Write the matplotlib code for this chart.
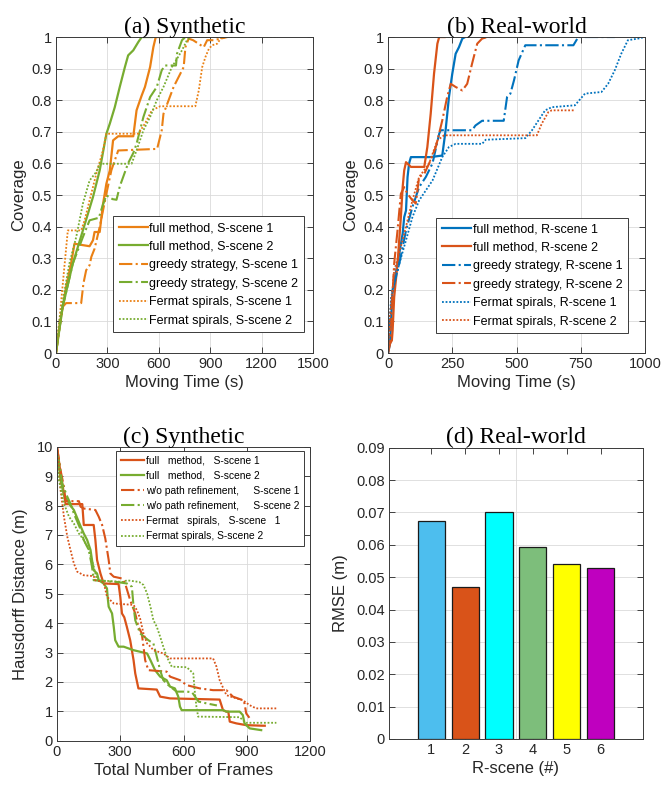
import numpy as np
import matplotlib
matplotlib.use("Agg")
import matplotlib.pyplot as plt

plt.rcParams['font.family'] = ['Liberation Sans', 'DejaVu Sans']

# colores estilo MATLAB
naranja_a = "#EA8014"
naranja = "#D95319"
verde = "#77AC30"
azul = "#0072BD"

# ---------------- (a) Synthetic: cobertura vs tiempo ----------------
a_full1_t = [0, 20, 39, 59, 88, 108, 150, 196, 216, 225, 255, 274, 294, 314, 333, 363, 451, 470, 480, 500, 519, 549, 568, 582, 620]
a_full1_c = [0, 0.082, 0.146, 0.209, 0.283, 0.346, 0.342, 0.338, 0.357, 0.383, 0.383, 0.47, 0.536, 0.578, 0.673, 0.686, 0.686, 0.768, 0.784, 0.815, 0.842, 0.905, 0.968, 1.0, 1.0]
a_full2_t = [0, 39, 98, 157, 216, 255, 294, 314, 343, 372, 402, 421, 451, 480, 500, 560]
a_full2_c = [0, 0.146, 0.283, 0.388, 0.494, 0.578, 0.694, 0.726, 0.778, 0.842, 0.905, 0.942, 0.958, 0.984, 1.0, 1.0]
a_greedy1_t = [0, 20, 39, 59, 147, 160, 176, 196, 206, 225, 255, 294, 323, 363, 590, 617, 627, 657, 686, 715, 745, 755, 774, 800, 862, 882, 920, 960, 1000]
a_greedy1_c = [0, 0.08, 0.146, 0.158, 0.158, 0.22, 0.262, 0.278, 0.304, 0.33, 0.399, 0.504, 0.578, 0.641, 0.646, 0.705, 0.757, 0.8, 0.842, 0.873, 0.905, 0.968, 0.995, 0.99, 0.968, 0.99, 0.99, 0.995, 1.0]
a_greedy2_t = [0, 39, 98, 157, 196, 250, 274, 294, 330, 353, 372, 421, 451, 470, 510, 549, 588, 617, 637, 700, 706, 735, 755, 800]
a_greedy2_c = [0, 0.146, 0.283, 0.367, 0.42, 0.428, 0.47, 0.499, 0.487, 0.485, 0.527, 0.601, 0.633, 0.662, 0.747, 0.81, 0.842, 0.895, 0.91, 0.91, 0.947, 0.99, 1.0, 1.0]
a_fermat1_t = [0, 20, 45, 69, 147, 167, 196, 235, 274, 294, 480, 519, 559, 608, 813, 833, 853, 872, 892, 911, 941, 960, 990]
a_fermat1_c = [0, 0.103, 0.25, 0.388, 0.388, 0.42, 0.483, 0.567, 0.641, 0.694, 0.694, 0.726, 0.768, 0.781, 0.781, 0.831, 0.905, 0.937, 0.963, 0.974, 0.979, 0.995, 1.0]
a_fermat2_t = [0, 20, 78, 118, 157, 196, 235, 255, 441, 470, 510, 549, 588, 627, 676, 706, 735, 764, 784, 1294]
a_fermat2_c = [0, 0.103, 0.283, 0.367, 0.473, 0.546, 0.573, 0.599, 0.599, 0.641, 0.705, 0.747, 0.8, 0.842, 0.905, 0.931, 0.958, 0.99, 1.0, 1.0]

# ---------------- (b) Real-world: cobertura vs tiempo ----------------
b_full1_t = [0, 8, 12, 18, 37, 57, 63, 70, 76, 82, 89, 165, 211, 224, 237, 250, 263, 276, 289, 300]
b_full1_c = [0, 0.03, 0.1, 0.2, 0.283, 0.378, 0.43, 0.451, 0.557, 0.6, 0.62, 0.62, 0.625, 0.705, 0.81, 0.884, 0.947, 0.968, 0.995, 1.0]
b_full2_t = [0, 8, 15, 18, 24, 37, 50, 57, 63, 70, 89, 141, 153, 166, 179, 192, 199, 220]
b_full2_c = [0, 0.03, 0.04, 0.072, 0.177, 0.283, 0.43, 0.525, 0.578, 0.604, 0.589, 0.589, 0.652, 0.757, 0.884, 0.979, 1.0, 1.0]
b_greedy1_t = [0, 10, 18, 44, 70, 95, 121, 147, 173, 199, 205, 327, 340, 366, 450, 463, 476, 490, 508, 534, 721, 740, 882]
b_greedy1_c = [0, 0.12, 0.2, 0.283, 0.388, 0.462, 0.525, 0.557, 0.6, 0.694, 0.705, 0.705, 0.72, 0.735, 0.735, 0.81, 0.821, 0.863, 0.926, 0.974, 0.974, 1.0, 1.0]
b_greedy2_t = [0, 8, 12, 24, 37, 50, 63, 76, 95, 108, 121, 141, 160, 186, 211, 230, 244, 263, 289, 308, 327, 347, 366, 386, 400]
b_greedy2_c = [0, 0.04, 0.1, 0.283, 0.388, 0.504, 0.525, 0.504, 0.483, 0.473, 0.557, 0.567, 0.6, 0.652, 0.736, 0.81, 0.852, 0.842, 0.831, 0.852, 0.916, 0.979, 0.995, 1.0, 1.0]
b_fermat1_t = [0, 12, 44, 70, 95, 121, 173, 211, 237, 263, 366, 380, 534, 560, 585, 611, 637, 727, 766, 830, 856, 882, 907, 933, 972, 998]
b_fermat1_c = [0, 0.177, 0.283, 0.357, 0.43, 0.483, 0.546, 0.62, 0.652, 0.662, 0.662, 0.675, 0.68, 0.705, 0.736, 0.768, 0.778, 0.784, 0.821, 0.826, 0.852, 0.895, 0.947, 0.99, 0.995, 1.0]
b_fermat2_t = [0, 8, 24, 57, 95, 121, 160, 192, 218, 579, 598, 624, 637, 727]
b_fermat2_c = [0, 0.12, 0.26, 0.357, 0.483, 0.557, 0.6, 0.673, 0.689, 0.689, 0.726, 0.763, 0.768, 0.768]

# ---------------- (c) Synthetic: Hausdorff vs frames ----------------
c_full1_f = [0, 17, 33, 41, 120, 127, 174, 182, 190, 206, 221, 292, 300, 308, 319, 331, 347, 355, 363, 371, 386, 473, 489, 536, 771, 787, 803, 812, 819, 850, 897, 975, 985]
c_full1_h = [10, 9.1, 8.4, 8.05, 8.05, 7.34, 7.34, 6.83, 6.15, 5.69, 5.35, 5.33, 4.9, 4.33, 4.2, 3.88, 3.42, 3.08, 2.74, 2.29, 1.78, 1.74, 1.5, 1.44, 1.4, 1.04, 0.99, 0.99, 0.65, 0.59, 0.53, 0.51, 0.51]
c_full2_f = [0, 17, 33, 64, 80, 113, 127, 143, 159, 166, 174, 190, 198, 221, 237, 240, 245, 261, 269, 276, 292, 316, 363, 427, 443, 465, 489, 520, 536, 559, 575, 583, 591, 787, 803, 866, 881, 889, 913, 968]
c_full2_h = [9.9, 8.87, 8.36, 8.0, 7.85, 7.28, 7.05, 6.83, 6.49, 6.15, 5.8, 5.69, 5.46, 5.35, 5.18, 4.9, 4.56, 4.33, 3.88, 3.42, 3.2, 3.2, 3.08, 2.97, 2.74, 2.4, 2.18, 2.06, 1.84, 1.78, 1.5, 1.16, 1.04, 1.04, 0.99, 0.99, 0.87, 0.59, 0.42, 0.36]
c_wo1_f = [0, 17, 33, 41, 104, 112, 127, 182, 198, 214, 229, 245, 253, 269, 308, 323, 347, 371, 386, 402, 410, 418, 433, 520, 536, 583, 615, 677, 740, 803, 834, 881, 889, 897, 912]
c_wo1_h = [10, 9.2, 8.64, 8.15, 8.15, 7.96, 7.9, 7.85, 7.62, 7.34, 6.88, 6.15, 5.69, 5.58, 5.52, 5.35, 4.78, 4.33, 3.88, 3.65, 3.2, 2.74, 2.4, 2.35, 2.18, 2.06, 1.89, 1.78, 1.72, 1.72, 1.5, 1.38, 1.27, 0.93, 0.78]
c_wo2_f = [0, 9, 25, 49, 64, 80, 113, 127, 151, 166, 174, 284, 331, 355, 363, 371, 394, 433, 457, 473, 489, 504, 528, 567, 591, 615, 640, 671, 709, 758]
c_wo2_h = [9.8, 9.5, 8.75, 8.3, 8.07, 7.73, 7.17, 6.83, 6.49, 5.92, 5.46, 5.4, 5.35, 5.24, 4.56, 4.1, 3.65, 3.42, 3.31, 2.86, 2.4, 2.06, 1.89, 1.67, 1.67, 1.67, 1.65, 1.33, 1.27, 1.2]
c_fermat1_f = [0, 5, 9, 17, 33, 49, 64, 80, 96, 127, 174, 182, 221, 237, 253, 269, 363, 379, 394, 410, 427, 443, 457, 504, 536, 740, 756, 771, 803, 850, 881, 913, 944, 1040]
c_fermat1_h = [10, 9.77, 9.1, 8.53, 7.62, 6.94, 6.49, 6.03, 5.75, 5.63, 5.6, 5.46, 5.4, 4.9, 4.78, 4.67, 4.62, 4.44, 4.16, 3.65, 3.31, 3.2, 3.08, 2.97, 2.8, 2.8, 2.52, 2.06, 1.55, 1.44, 1.38, 1.21, 1.1, 1.1]
c_fermat2_f = [0, 9, 33, 57, 80, 104, 127, 151, 174, 190, 316, 331, 390, 410, 427, 443, 457, 473, 489, 504, 520, 544, 615, 630, 646, 654, 661, 669, 866, 881, 897, 1040]
c_fermat2_h = [9.5, 8.87, 8.07, 7.62, 7.39, 7.05, 6.83, 6.49, 5.92, 5.46, 5.4, 5.46, 5.4, 5.3, 5.01, 4.56, 4.1, 3.88, 3.54, 3.2, 2.86, 2.52, 2.5, 2.4, 2.29, 1.61, 1.16, 0.82, 0.8, 0.7, 0.61, 0.61]

# ---------------- (d) Real-world: RMSE ----------------
escenas = [1, 2, 3, 4, 5, 6]
rmse = [0.0672, 0.0469, 0.0700, 0.0593, 0.0540, 0.0528]
colores_barras = ["#4DBEEE", "#D95319", "#00FFFF", "#7DBE7B", "#FFFF00", "#BF00BF"]

punteado = (0, (1, 1))


def estilo_ejes(ax):
    ax.tick_params(direction="in", top=True, right=True, length=4, width=0.6,
                   labelsize=10.5, colors="#262626", pad=3)
    for s in ax.spines.values():
        s.set_color("#3A3A3A")
        s.set_linewidth(0.7)
    ax.grid(True, color="#DADADA", linewidth=0.6)
    ax.set_axisbelow(True)


def titulo(ax, texto):
    ax.set_title(texto, family="Liberation Serif", fontsize=17, pad=3)


def leyenda(ax, loc, ancla, tam, esp):
    leg = ax.legend(loc=loc, bbox_to_anchor=ancla, borderaxespad=0,
                    fontsize=tam, fancybox=False, edgecolor="#3A3A3A", framealpha=1,
                    handlelength=2.3, handletextpad=0.15, labelspacing=esp, borderpad=0.45)
    leg.get_frame().set_linewidth(0.7)


fig = plt.figure(figsize=(6.61, 7.88), dpi=100)

# (a)
ax1 = fig.add_axes([0.0847, 0.552, 0.389, 0.401])
ax1.plot(a_full1_t, a_full1_c, color=naranja_a, lw=1.6, label="full method, S-scene 1")
ax1.plot(a_full2_t, a_full2_c, color=verde, lw=1.6, label="full method, S-scene 2")
ax1.plot(a_greedy1_t, a_greedy1_c, color=naranja_a, lw=1.5, ls="-.", label="greedy strategy, S-scene 1")
ax1.plot(a_greedy2_t, a_greedy2_c, color=verde, lw=1.5, ls="-.", label="greedy strategy, S-scene 2")
ax1.plot(a_fermat1_t, a_fermat1_c, color=naranja_a, lw=1.3, ls=punteado, label="Fermat spirals, S-scene 1")
ax1.plot(a_fermat2_t, a_fermat2_c, color=verde, lw=1.3, ls=punteado, label="Fermat spirals, S-scene 2")
ax1.set_xlim(0, 1500)
ax1.set_ylim(0, 1)
ax1.set_xticks(np.arange(0, 1501, 300))
ax1.set_yticks(np.arange(0, 1.01, 0.1))
ax1.set_yticklabels(["0"] + ["%.1f" % v for v in np.arange(0.1, 0.95, 0.1)] + ["1"])
ax1.set_xlabel("Moving Time (s)", fontsize=12, color="#262626", labelpad=3)
ax1.set_ylabel("Coverage", fontsize=12, color="#262626", labelpad=4)
titulo(ax1, "(a) Synthetic")
estilo_ejes(ax1)
leyenda(ax1, "lower right", (0.965, 0.066), 9, 0.52)

# (b)
ax2 = fig.add_axes([0.587, 0.552, 0.389, 0.401])
ax2.plot(b_full1_t, b_full1_c, color=azul, lw=1.6, label="full method, R-scene 1")
ax2.plot(b_full2_t, b_full2_c, color=naranja, lw=1.6, label="full method, R-scene 2")
ax2.plot(b_greedy1_t, b_greedy1_c, color=azul, lw=1.5, ls="-.", label="greedy strategy, R-scene 1")
ax2.plot(b_greedy2_t, b_greedy2_c, color=naranja, lw=1.5, ls="-.", label="greedy strategy, R-scene 2")
ax2.plot(b_fermat1_t, b_fermat1_c, color=azul, lw=1.3, ls=punteado, label="Fermat spirals, R-scene 1")
ax2.plot(b_fermat2_t, b_fermat2_c, color=naranja, lw=1.3, ls=punteado, label="Fermat spirals, R-scene 2")
ax2.set_xlim(0, 1000)
ax2.set_ylim(0, 1)
ax2.set_xticks(np.arange(0, 1001, 250))
ax2.set_yticks(np.arange(0, 1.01, 0.1))
ax2.set_yticklabels(["0"] + ["%.1f" % v for v in np.arange(0.1, 0.95, 0.1)] + ["1"])
ax2.set_xlabel("Moving Time (s)", fontsize=12, color="#262626", labelpad=3)
ax2.set_ylabel("Coverage", fontsize=12, color="#262626", labelpad=4)
titulo(ax2, "(b) Real-world")
estilo_ejes(ax2)
leyenda(ax2, "lower right", (0.933, 0.062), 9, 0.52)

# (c)
ax3 = fig.add_axes([0.0862, 0.060, 0.383, 0.373])
ax3.plot(c_full1_f, c_full1_h, color=naranja, lw=1.6, label="full   method,   S-scene 1")
ax3.plot(c_full2_f, c_full2_h, color=verde, lw=1.6, label="full   method,   S-scene 2")
ax3.plot(c_wo1_f, c_wo1_h, color=naranja, lw=1.5, ls="-.", label="w/o path refinement,     S-scene 1")
ax3.plot(c_wo2_f, c_wo2_h, color=verde, lw=1.5, ls="-.", label="w/o path refinement,     S-scene 2")
ax3.plot(c_fermat1_f, c_fermat1_h, color=naranja, lw=1.3, ls=punteado, label="Fermat   spirals,   S-scene   1")
ax3.plot(c_fermat2_f, c_fermat2_h, color=verde, lw=1.3, ls=punteado, label="Fermat spirals, S-scene 2")
ax3.set_xlim(0, 1200)
ax3.set_ylim(0, 10)
ax3.set_xticks(np.arange(0, 1201, 300))
ax3.set_yticks(np.arange(0, 11, 1))
ax3.set_xlabel("Total Number of Frames", fontsize=12, color="#262626", labelpad=3)
ax3.set_ylabel("Hausdorff Distance (m)", fontsize=12, color="#262626", labelpad=6)
titulo(ax3, "(c) Synthetic")
estilo_ejes(ax3)
leyenda(ax3, "upper right", (0.976, 0.986), 7.4, 0.5)

# (d)
ax4 = fig.add_axes([0.5885, 0.0622, 0.384, 0.3697])
ax4.bar(escenas, rmse, width=0.8, color=colores_barras, edgecolor="#1A1A1A", linewidth=0.9, zorder=3)
ax4.set_xlim(-0.25, 7.25)
ax4.set_ylim(0, 0.09)
ax4.set_xticks(escenas)
ax4.set_yticks(np.arange(0, 0.091, 0.01))
ax4.set_yticklabels(["0"] + ["%.2f" % v for v in np.arange(0.01, 0.0905, 0.01)])
ax4.set_xlabel("R-scene (#)", fontsize=12, color="#262626", labelpad=3)
ax4.set_ylabel("RMSE (m)", fontsize=12, color="#262626", labelpad=6)
titulo(ax4, "(d) Real-world")
estilo_ejes(ax4)
ax4.grid(False, axis="x")
ax4.axvline(3.5, color="#DADADA", lw=0.6, zorder=0)

fig.savefig("out.png", dpi=100)
